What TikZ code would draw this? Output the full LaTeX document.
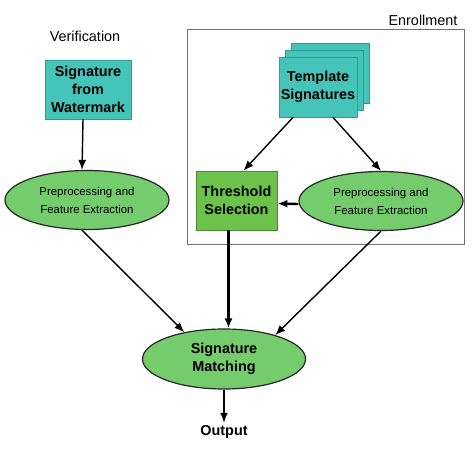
\documentclass[tikz,border=0pt]{standalone}
\usepackage{fontspec}
\setmainfont{Liberation Sans}
\usetikzlibrary{shapes.geometric,arrows.meta}
\definecolor{tealbox}{HTML}{45C4BA}
\definecolor{tealedge}{HTML}{2F9C94}
\definecolor{threshgreen}{HTML}{6CC24A}
\definecolor{ovalgreen}{HTML}{74CC6C}
\newcommand{\boldlabel}{\fontsize{14.4}{18}\selectfont\bfseries}
\newcommand{\smalllabel}{\fontsize{11.4}{18}\selectfont}
\newcommand{\titlelabel}{\fontsize{14.4}{18}\selectfont}

\begin{document}
\begin{tikzpicture}[x=1pt,y=-1pt,line width=1.4pt,>={Latex[length=10pt,width=8pt]},
  sigbox/.style={rectangle,draw=tealedge,fill=tealbox,line width=0.8pt,minimum width=86pt,minimum height=59pt,inner sep=0pt,align=center,font=\boldlabel},
  tplbox/.style={sigbox,minimum width=78pt,minimum height=60pt},
  thrbox/.style={rectangle,draw=threshgreen!70!black,fill=threshgreen,line width=0.8pt,minimum width=81pt,minimum height=59pt,inner sep=0pt,align=center,font=\boldlabel},
  oval/.style={ellipse,draw=black!85,fill=ovalgreen,line width=1.2pt,minimum width=164pt,minimum height=59pt,inner sep=0pt,align=center,font=\smalllabel},
  frame/.style={rectangle,draw=black!55,line width=1pt,minimum width=277pt,minimum height=215pt,inner sep=0pt},
  thick arrow/.style={->,line width=2.4pt}]
\useasboundingbox (0,0) rectangle (474,450);

% enrollment part
\node[frame] (E) at (325.5,136.5) {};
\node[font=\titlelabel] (Etitle) at (423,20) {Enrollment};
\node[tplbox] (T3) at (330,73) {};
\node[tplbox] (T2) at (324,80) {};
\node[tplbox] (T) at (318,87) {Template\\Signatures};
\node[thrbox] (TS) at (236.5,200.5) {Threshold\\Selection};
\node[oval] (RE) at (381,201) {Preprocessing and\\Feature Extraction};

% verification part
\node[font=\titlelabel] (Vtitle) at (85,36) {Verification};
\node[sigbox] (W) at (88,89.5) {Signature\\from\\Watermark};
\node[oval] (LE) at (87,200) {Preprocessing and\\Feature Extraction};

% matching
\node[oval,font=\boldlabel,minimum width=163pt,minimum height=60pt] (M) at (224,359) {Signature\\Matching};
\node[font=\boldlabel,inner sep=2pt] (O) at (224,432) {Output};

\draw[->] ([xshift=-5pt]W.south) -- ([xshift=-5pt]LE.north);
\draw[->] ([xshift=-25pt]T.south) -- ([xshift=7pt]TS.north);
\draw[->] ([xshift=15pt]T.south) -- (RE.north);
\draw[thick arrow] ([yshift=-3pt]RE.west) -- ([yshift=-3pt]TS.east);
\draw[thick arrow] ([xshift=-8pt]TS.south) -- ([xshift=-8pt]TS.south |- M.north);
\draw[->] ([xshift=-5pt]LE.south) -- (M.146);
\draw[->] (RE.south) -- (M.25);
\draw[->] (M.south) -- (M.south |- O.north);
\end{tikzpicture}
\end{document}
